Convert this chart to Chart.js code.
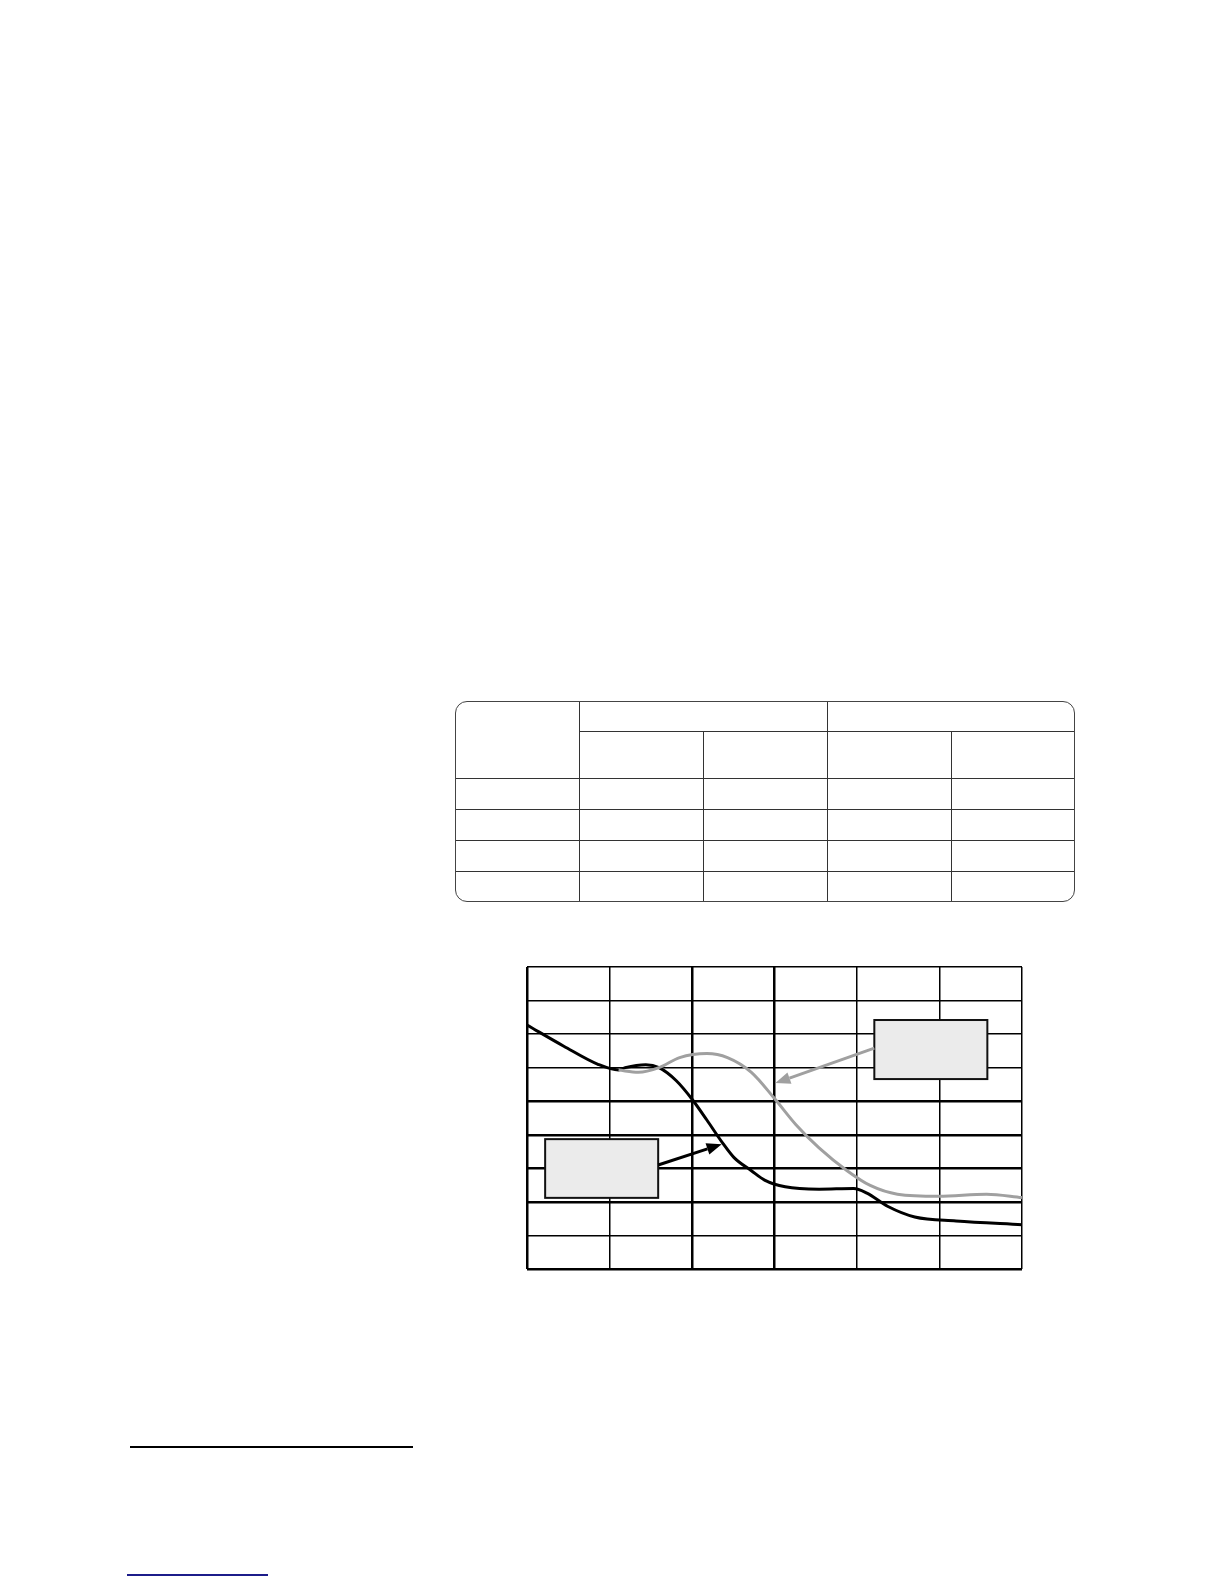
<!DOCTYPE html>
<html>
<head>
<meta charset="utf-8">
<script src="https://cdn.jsdelivr.net/npm/chart.js@4"></script>
<style>
  html, body { margin: 0; padding: 0; background: #fff; }
  body { width: 1224px; height: 1584px; position: relative; overflow: hidden; }
  #tbl { position: absolute; left: 455px; top: 701px; width: 620px; height: 201px;
         border: 1px solid #444; border-radius: 12px; box-sizing: border-box; overflow: hidden; }
  .hl, .vl { position: absolute; background: #333; }
  #wrap { position: absolute; left: 517px; top: 957px; }
  #rule { position: absolute; left: 130px; top: 1446px; width: 283px; height: 2px; background: #000; }
  #link { position: absolute; left: 127px; top: 1574px; width: 141px; height: 1.5px; background: #1c1c8a; }
</style>
</head>
<body>
<div id="tbl"></div>
<div id="wrap"><canvas id="c" width="515" height="322"></canvas></div>
<div id="rule"></div>
<div id="link"></div>
<script>
// ---- table layout (empty grid) ----
const tableColEdges = [0, 124, 248, 372, 496, 620];
const tableRowEdges = [0, 30, 77, 108, 139, 170, 201];
(function buildTable(){
  const t = document.getElementById('tbl');
  // vertical lines (cols 1..4)
  for (let i = 1; i < tableColEdges.length - 1; i++) {
    const d = document.createElement('div'); d.className = 'vl';
    const x = tableColEdges[i];
    const top = (i === 2 || i === 4) ? 30 : 0;
    d.style.left = (x - 1) + 'px'; d.style.top = top + 'px'; d.style.width = '1px'; d.style.height = (201 - top) + 'px';
    t.appendChild(d);
  }
  for (let j = 1; j < tableRowEdges.length - 1; j++) {
    const d = document.createElement('div'); d.className = 'hl';
    const y = tableRowEdges[j];
    const left = (j === 1) ? 124 : 0;
    d.style.top = (y - 1) + 'px'; d.style.left = left + 'px'; d.style.height = '1px'; d.style.width = (620 - left) + 'px';
    t.appendChild(d);
  }
})();

// ---- chart data ----
const blackX = [0, 0.446, 0.86, 1.11, 1.19, 1.44, 1.60, 1.81, 2.01, 2.18, 2.37, 2.51, 2.72, 2.88, 3.13, 3.54, 3.96, 4.12, 4.37, 4.70, 5.20, 6.0];
const blackY = [7.27, 6.64, 6.10, 5.93, 6.00, 6.09, 6.00, 5.61, 5.03, 4.44, 3.76, 3.32, 2.93, 2.65, 2.45, 2.38, 2.40, 2.26, 1.87, 1.55, 1.43, 1.32];
const grayX = [1.11, 1.35, 1.60, 1.85, 2.18, 2.43, 2.72, 3.0, 3.26, 3.54, 3.88, 4.16, 4.49, 4.99, 5.57, 6.0];
const grayY = [5.93, 5.86, 6.00, 6.30, 6.42, 6.30, 5.86, 5.08, 4.30, 3.61, 2.93, 2.49, 2.23, 2.17, 2.23, 2.13];
const xTicks = [0, 1, 2, 3, 4, 5, 6];
const yTicks = [0, 1, 2, 3, 4, 5, 6, 7, 8, 9];
const thickX = [0, 2, 3];
const thickY = [0, 2, 3, 4, 5];

// callout boxes and arrows (data units)
const callouts = [
  { box: [4.21, 7.42, 5.58, 5.66], from: [4.21, 6.58], to: [3.01, 5.54], color: '#a0a0a0' },
  { box: [0.22, 3.87, 1.59, 2.12], from: [1.59, 3.10], to: [2.36, 3.72], color: '#000000' }
];

const toPts = (xs, ys) => xs.map((x, i) => ({ x, y: ys[i] }));

const calloutPlugin = {
  id: 'callouts',
  afterDatasetsDraw(chart) {
    const { ctx, scales: { x, y } } = chart;
    ctx.save();
    callouts.forEach(c => {
      const x1 = x.getPixelForValue(c.box[0]), y1 = y.getPixelForValue(c.box[1]);
      const x2 = x.getPixelForValue(c.box[2]), y2 = y.getPixelForValue(c.box[3]);
      ctx.fillStyle = '#ebebeb';
      ctx.fillRect(x1, y1, x2 - x1, y2 - y1);
      ctx.lineWidth = 2; ctx.strokeStyle = '#111';
      ctx.strokeRect(x1, y1, x2 - x1, y2 - y1);
      // arrow
      const fx = x.getPixelForValue(c.from[0]), fy = y.getPixelForValue(c.from[1]);
      const tx = x.getPixelForValue(c.to[0]), ty = y.getPixelForValue(c.to[1]);
      const ang = Math.atan2(ty - fy, tx - fx);
      const hl = 15, hw = 6;
      const bx = tx - hl * Math.cos(ang), by = ty - hl * Math.sin(ang);
      ctx.strokeStyle = c.color; ctx.fillStyle = c.color; ctx.lineWidth = 3;
      ctx.beginPath(); ctx.moveTo(fx, fy); ctx.lineTo(bx, by); ctx.stroke();
      ctx.beginPath();
      ctx.moveTo(tx, ty);
      ctx.lineTo(bx + hw * Math.sin(ang), by - hw * Math.cos(ang));
      ctx.lineTo(bx - hw * Math.sin(ang), by + hw * Math.cos(ang));
      ctx.closePath(); ctx.fill();
    });
    ctx.restore();
  }
};

new Chart(document.getElementById('c'), {
  type: 'scatter',
  data: {
    datasets: [
      { data: toPts(grayX, grayY), showLine: true, borderColor: '#a0a0a0', borderWidth: 3,
        pointRadius: 0, cubicInterpolationMode: 'monotone', fill: false },
      { data: toPts(blackX, blackY), showLine: true, borderColor: '#000', borderWidth: 3,
        pointRadius: 0, cubicInterpolationMode: 'monotone', fill: false }
    ]
  },
  options: {
    responsive: false, animation: false,
    layout: { padding: 10 },
    plugins: { legend: { display: false }, tooltip: { enabled: false } },
    scales: {
      x: {
        type: 'linear', min: 0, max: 6,
        afterBuildTicks: s => { s.ticks = xTicks.map(v => ({ value: v })); },
        ticks: { display: false },
        border: { display: false },
        grid: { drawTicks: false, color: '#000',
          lineWidth: c => thickX.includes(c.tick.value) ? 2.5 : 1.5 }
      },
      y: {
        type: 'linear', min: 0, max: 9,
        afterBuildTicks: s => { s.ticks = yTicks.map(v => ({ value: v })); },
        ticks: { display: false },
        border: { display: false },
        grid: { drawTicks: false, color: '#000',
          lineWidth: c => thickY.includes(c.tick.value) ? 2.5 : 1.5 }
      }
    }
  },
  plugins: [calloutPlugin]
});
</script>
</body>
</html>
